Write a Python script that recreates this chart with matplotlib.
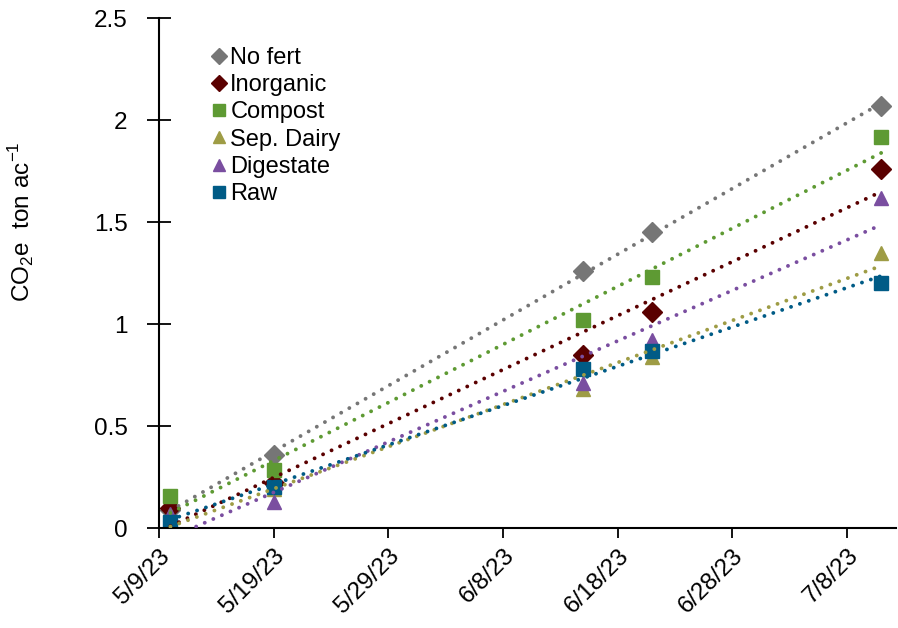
import datetime as dt
import numpy as np
import matplotlib
matplotlib.use('Agg')
import matplotlib.pyplot as plt
import matplotlib.dates as mdates
from matplotlib.ticker import FuncFormatter, FixedLocator, MultipleLocator

plt.rcParams['font.family'] = ['Liberation Sans', 'DejaVu Sans']
plt.rcParams['mathtext.fontset'] = 'custom'
plt.rcParams['mathtext.rm'] = 'Liberation Sans'

# sampling dates
dates = ['2023-05-10', '2023-05-19', '2023-06-15', '2023-06-21', '2023-07-11']

# cumulative CO2e (ton/ac) per treatment
no_fert = [0.09, 0.36, 1.26, 1.45, 2.07]
inorganic = [0.10, 0.22, 0.85, 1.06, 1.76]
compost = [0.16, 0.285, 1.02, 1.23, 1.92]
sep_dairy = [0.05, 0.19, 0.68, 0.84, 1.35]
digestate = [0.07, 0.13, 0.71, 0.92, 1.62]
raw = [0.03, 0.20, 0.78, 0.87, 1.20]

series = [
    ('No fert', no_fert, 'D', 10, '#767676'),
    ('Inorganic', inorganic, 'D', 10, '#5a0000'),
    ('Compost', compost, 's', 10, '#5e9a33'),
    ('Sep. Dairy', sep_dairy, '^', 9.5, '#9e9c45'),
    ('Digestate', digestate, '^', 9.5, '#7a4ea0'),
    ('Raw', raw, 's', 10, '#005b86'),
]

x_dates = [dt.datetime.strptime(d, '%Y-%m-%d') for d in dates]
x_num = mdates.date2num(x_dates)


def date_label(v, pos):
    d = mdates.num2date(v)
    return f'{d.month}/{d.day}/{d:%y}'


def main():
    fig = plt.figure(figsize=(8.98, 6.28), dpi=100)
    ax = fig.add_axes([0.177, 0.159, 0.821, 0.812])

    for name, vals, mk, ms, col in series:
        ax.plot(x_num, vals, linestyle='none', marker=mk, markersize=ms,
                color=col, label=name, zorder=2)
        # linear trendline over the data range
        k, b = np.polyfit(x_num, vals, 1)
        xs = np.array([x_num[0], x_num[-1]])
        ax.plot(xs, k * xs + b, color=col, linewidth=2.8,
                linestyle=(0, (0.01, 2.4)), dash_capstyle='round', zorder=3)

    x0 = mdates.date2num(dt.datetime(2023, 5, 9))
    ax.set_xlim(x0, x0 + 64.3)
    ax.set_ylim(0, 2.5)
    ax.xaxis.set_major_locator(FixedLocator([x0 + 10 * i for i in range(7)]))
    ax.xaxis.set_major_formatter(FuncFormatter(date_label))
    ax.yaxis.set_major_locator(MultipleLocator(0.5))
    ax.yaxis.set_major_formatter(FuncFormatter(lambda v, p: f'{v:g}'))

    ax.tick_params(axis='both', labelsize=17.5, width=1.3, color='black')
    ax.tick_params(axis='x', length=7, direction='out', pad=5)
    ax.tick_params(axis='y', length=17, direction='inout', pad=14)
    for lab in ax.get_xticklabels():
        lab.set_rotation(45)
        lab.set_ha('right')
        lab.set_va('top')
        lab.set_rotation_mode('anchor')

    for s in ['top', 'right']:
        ax.spines[s].set_visible(False)
    for s in ['left', 'bottom']:
        ax.spines[s].set_linewidth(1.5)

    ax.set_ylabel('CO$_2$e  ton ac$^{-1}$', fontsize=17.5)
    ax.yaxis.set_label_coords(-0.166, 0.60)

    ax.legend(loc='upper left', bbox_to_anchor=(0.052, 0.962), frameon=False,
              fontsize=17, handletextpad=0.0, labelspacing=0.22,
              markerscale=0.85, handlelength=1.0, borderaxespad=0)

    fig.savefig('out.png', dpi=100)


main()
